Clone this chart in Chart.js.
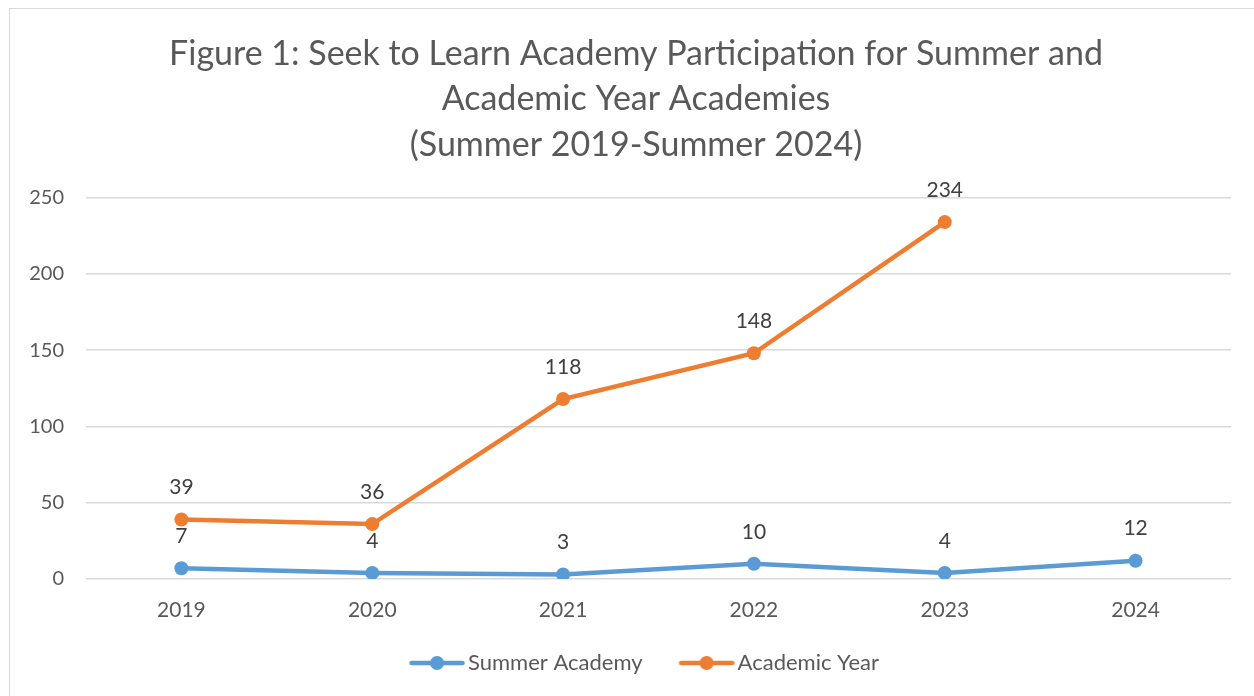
<!DOCTYPE html>
<html><head><meta charset="utf-8">
<script src="https://cdn.jsdelivr.net/npm/chart.js@4.4.0/dist/chart.umd.min.js"></script>
<style>
html,body{margin:0;padding:0;overflow:hidden;background:#fff;}
#frame{position:absolute;left:9px;top:8px;width:1270px;height:700px;border:1px solid #d9d9d9;box-sizing:border-box;}
#wrap{position:absolute;left:0;top:0;width:1270px;height:696px;}
</style></head>
<body>
<div id="frame"></div>
<div id="wrap"><canvas id="c" width="1270" height="696"></canvas></div>
<script>
const years = ["2019","2020","2021","2022","2023","2024"];
const summerAcademy = [7,4,3,10,4,12];
const academicYear = [39,36,118,148,234,null];
const yTicks = [0,50,100,150,200,250];
const titleLines = ["Figure 1: Seek to Learn Academy Participation for Summer and","Academic Year Academies","(Summer 2019-Summer 2024)"];

const BLUE = "#5b9bd5", ORANGE = "#ed7d31", TXT = "#595959";
const FONT = "Lato, 'Open Sans', sans-serif";

function legendIcon(color){
  const cv = document.createElement('canvas');
  cv.width = 80; cv.height = 16;
  const g = cv.getContext('2d');
  g.strokeStyle = color; g.lineWidth = 4.5; g.lineCap = 'round';
  g.beginPath(); g.moveTo(26.5,8); g.lineTo(77.5,8); g.stroke();
  g.fillStyle = color; g.beginPath(); g.arc(52,8,7,0,Math.PI*2); g.fill();
  return cv;
}
const icons = [legendIcon(BLUE), legendIcon(ORANGE)];

const dataLabels = {
  id:'dataLabels',
  afterDatasetsDraw(chart){
    const ctx = chart.ctx;
    ctx.save();
    ctx.font = "21px " + FONT;
    ctx.fillStyle = "#404040";
    ctx.textAlign = 'center'; ctx.textBaseline = 'middle';
    chart.data.datasets.forEach((ds,i)=>{
      const meta = chart.getDatasetMeta(i);
      meta.data.forEach((pt,j)=>{
        const v = ds.data[j];
        if(v===null || v===undefined) return;
        ctx.fillText(String(v), pt.x, pt.y - 32);
      });
    });
    ctx.restore();
  }
};

new Chart(document.getElementById('c'), {
  type:'line',
  data:{
    labels: years,
    datasets:[
      {label:'Summer Academy', data: summerAcademy, borderColor: BLUE, backgroundColor: BLUE,
       borderWidth:4.5, pointRadius:7, pointHoverRadius:7, pointBackgroundColor:BLUE, pointBorderWidth:0,
       pointStyle:'circle', tension:0},
      {label:'Academic Year', data: academicYear, borderColor: ORANGE, backgroundColor: ORANGE,
       borderWidth:4.5, pointRadius:7, pointHoverRadius:7, pointBackgroundColor:ORANGE, pointBorderWidth:0,
       pointStyle:'circle', tension:0}
    ]
  },
  options:{
    responsive:false, animation:false, devicePixelRatio:1,
    layout:{padding:{left:10,right:8,top:0,bottom:12}},
    plugins:{
      title:{display:true, text:titleLines, color:TXT, font:{family:FONT,size:34,weight:'normal',lineHeight:1.34}, padding:{top:31,bottom:30}},
      legend:{position:'bottom', labels:{usePointStyle:true, pointStyleWidth:64, color:TXT, font:{family:FONT,size:22}, padding:20,
        generateLabels(chart){
          const items = Chart.defaults.plugins.legend.labels.generateLabels(chart);
          items.forEach((it,i)=>{ it.pointStyle = icons[i]; });
          return items;
        }}},
      tooltip:{enabled:false}
    },
    scales:{
      x:{
        offset:true,
        grid:{display:false, drawTicks:false},
        border:{display:false},
        ticks:{color:TXT, font:{family:FONT,size:21}, padding:19},
        afterFit(s){ s.height = 53; }
      },
      y:{
        min:0, max:250,
        afterBuildTicks(s){ s.ticks = yTicks.map(v=>({value:v})); },
        grid:{color:'#d9d9d9', lineWidth:1.5, drawTicks:false},
        border:{display:false},
        ticks:{color:TXT, font:{family:FONT,size:20}, padding:22},
        afterFit(s){ s.width = 76; }
      },
      yRight:{
        type:'linear', position:'right', display:true,
        grid:{display:false, drawTicks:false},
        border:{display:false},
        ticks:{display:false},
        afterFit(s){ s.width = 31; }
      }
    }
  },
  plugins:[dataLabels]
});
</script>
</body></html>
